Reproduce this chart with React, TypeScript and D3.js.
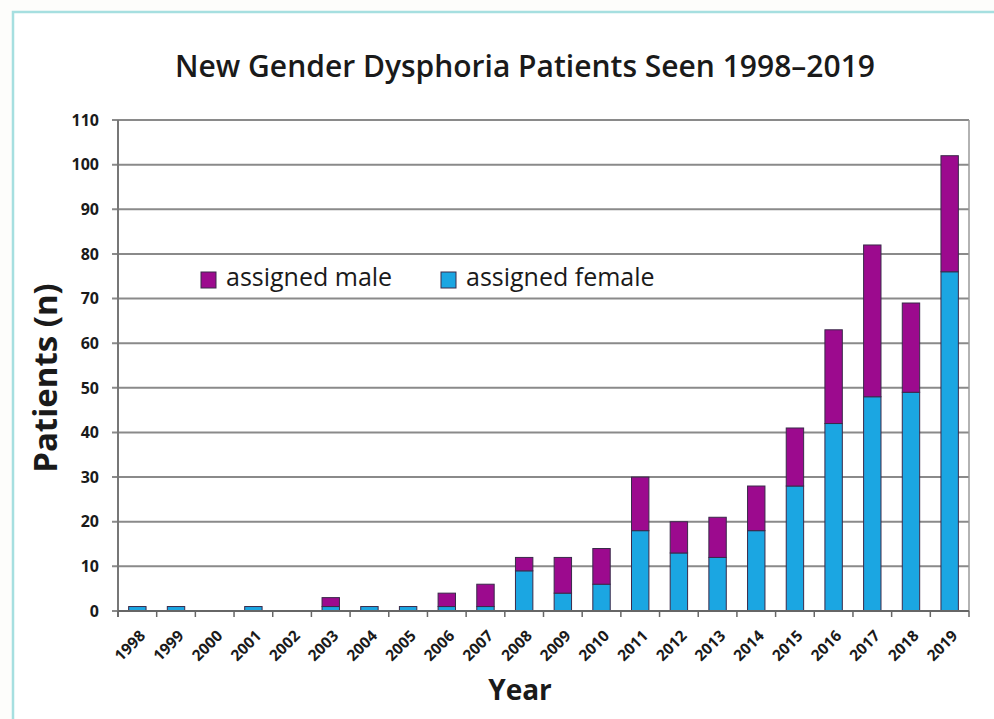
import React, { useEffect, useRef } from 'react';
import * as d3 from 'd3';

// data
const years = ['1998', '1999', '2000', '2001', '2002', '2003', '2004', '2005', '2006', '2007', '2008',
    '2009', '2010', '2011', '2012', '2013', '2014', '2015', '2016', '2017', '2018', '2019'];
const assignedFemale = [1, 1, 0, 1, 0, 1, 1, 1, 1, 1, 9, 4, 6, 18, 13, 12, 18, 28, 42, 48, 49, 76];
const assignedMale = [0, 0, 0, 0, 0, 2, 0, 0, 3, 5, 3, 8, 8, 12, 7, 9, 10, 13, 21, 34, 20, 26];
const yTicks = [0, 10, 20, 30, 40, 50, 60, 70, 80, 90, 100, 110];

const FONT = "'Open Sans', 'DejaVu Sans', sans-serif";
const PURPLE = '#9c0a8e';
const BLUE = '#1ba6e2';

export default function App() {
    const ref = useRef<SVGSVGElement>(null);

    useEffect(() => {
        document.body.style.margin = '0';
        const svg = d3.select(ref.current);
        svg.selectAll('*').remove();

        const W = 994, H = 719;
        const plot = { left: 118, right: 969, top: 120, bottom: 611 };

        // frame
        svg.append('rect').attr('width', W).attr('height', H).attr('fill', '#fdfdfb');
        svg.append('rect')
            .attr('x', 13).attr('y', 12).attr('width', W).attr('height', H)
            .attr('fill', '#fff').attr('stroke', '#a6dfe0').attr('stroke-width', 2.5);

        const x = d3.scaleBand().domain(years).range([plot.left, plot.right]).paddingInner(0.55).paddingOuter(0.275);
        const y = d3.scaleLinear().domain([0, 110]).range([plot.bottom, plot.top]);

        // gridlines
        svg.append('g').selectAll('line').data(yTicks).enter().append('line')
            .attr('x1', plot.left - 6).attr('x2', plot.right)
            .attr('y1', d => y(d)).attr('y2', d => y(d))
            .attr('stroke', '#8a8a8a').attr('stroke-width', 2);

        svg.append('line').attr('x1', plot.right).attr('x2', plot.right)
            .attr('y1', plot.top).attr('y2', plot.bottom).attr('stroke', '#9a9a9a').attr('stroke-width', 1.5);

        // y tick labels
        svg.append('g').selectAll('text').data(yTicks).enter().append('text')
            .attr('x', 99).attr('y', d => y(d)).attr('dy', '0.36em')
            .attr('text-anchor', 'end').attr('font-family', FONT).attr('font-weight', 700)
            .attr('font-size', 16).attr('fill', '#1a1a1a').text(d => d);

        // stacked bars
        const stackData = years.map((yr, i) => ({ year: yr, female: assignedFemale[i], male: assignedMale[i] }));
        const series = d3.stack<any>().keys(['female', 'male'])(stackData);
        const colors: any = { female: BLUE, male: PURPLE };

        svg.append('g').selectAll('g').data(series).enter().append('g')
            .attr('fill', (s: any) => colors[s.key])
            .selectAll('rect').data((s: any) => s.filter((d: any) => d[1] - d[0] > 0)).enter().append('rect')
            .attr('x', (d: any) => x(d.data.year)!)
            .attr('width', x.bandwidth())
            .attr('y', (d: any) => y(d[1]))
            .attr('height', (d: any) => y(d[0]) - y(d[1]))
            .attr('stroke', '#3a2a4a').attr('stroke-width', 1);

        // axes lines
        svg.append('line').attr('x1', plot.left).attr('x2', plot.left)
            .attr('y1', plot.top).attr('y2', plot.bottom + 6).attr('stroke', '#777').attr('stroke-width', 2);
        svg.append('line').attr('x1', plot.left).attr('x2', plot.right)
            .attr('y1', plot.bottom).attr('y2', plot.bottom).attr('stroke', '#666').attr('stroke-width', 2);
        const step = x.step();
        svg.append('g').selectAll('line').data(d3.range(years.length + 1)).enter().append('line')
            .attr('x1', d => plot.left + d * step).attr('x2', d => plot.left + d * step)
            .attr('y1', plot.bottom).attr('y2', plot.bottom + 6)
            .attr('stroke', '#666').attr('stroke-width', 1.5);

        // x tick labels
        svg.append('g').selectAll('text').data(years).enter().append('text')
            .attr('transform', d => `translate(${x(d)! + x.bandwidth() / 2 + 5},${plot.bottom + 22}) rotate(-45)`)
            .attr('text-anchor', 'end').attr('dy', '0.35em')
            .attr('font-family', FONT).attr('font-weight', 700).attr('font-size', 15.5).attr('fill', '#1a1a1a')
            .text(d => d);

        // title
        svg.append('text').attr('x', 525).attr('y', 77).attr('text-anchor', 'middle')
            .attr('font-family', FONT).attr('font-weight', 600).attr('font-size', 30).attr('fill', '#1a1a1a')
            .text('New Gender Dysphoria Patients Seen 1998–2019');

        // axis titles
        svg.append('text').attr('transform', 'translate(57,378) rotate(-90)').attr('text-anchor', 'middle')
            .attr('font-family', FONT).attr('font-weight', 700).attr('font-size', 33).attr('fill', '#1a1a1a')
            .text('Patients (n)');
        svg.append('text').attr('x', 520).attr('y', 700).attr('text-anchor', 'middle')
            .attr('font-family', FONT).attr('font-weight', 700).attr('font-size', 28).attr('fill', '#1a1a1a')
            .text('Year');

        // legend
        const legend = [
            { label: 'assigned male', color: PURPLE, x: 201 },
            { label: 'assigned female', color: BLUE, x: 441 },
        ];
        const lg = svg.append('g').selectAll('g').data(legend).enter().append('g')
            .attr('transform', d => `translate(${d.x},272)`);
        lg.append('rect').attr('width', 15).attr('height', 16)
            .attr('fill', d => d.color).attr('stroke', '#3a2a4a').attr('stroke-width', 1);
        lg.append('text').attr('x', 25).attr('y', 14)
            .attr('font-family', FONT).attr('font-size', 25).attr('fill', '#1a1a1a')
            .text(d => d.label);
    }, []);

    return <svg ref={ref} width={994} height={719} style={{ display: 'block' }} />;
}
